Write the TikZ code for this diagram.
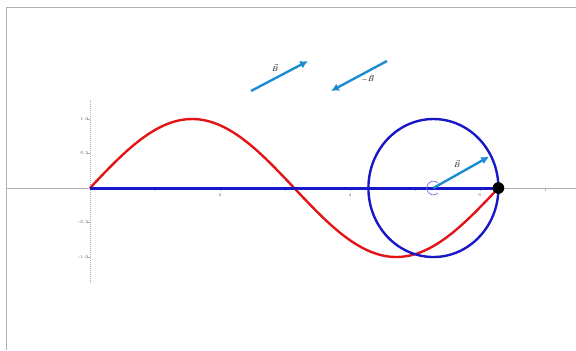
\documentclass[tikz,border=0pt]{standalone}
\usetikzlibrary{arrows.meta,calc}
\definecolor{curvered}{RGB}{226,20,24}
\definecolor{circblue}{RGB}{24,24,200}
\definecolor{vecblue}{RGB}{28,140,210}
\tikzset{
  vecarrow/.style={vecblue,line width=2.4pt,-{Latex[length=8pt,width=8pt]}},
  ticklabel/.style={font=\fontsize{4.5}{5}\selectfont,text=gray!80!black,inner sep=1pt}
}
\begin{document}
\begin{tikzpicture}[x=65bp,y=69bp]
\useasboundingbox (-1.385,-2.348) rectangle (7.477,2.725);
% frame
\draw[gray!60,line width=0.8pt] (-1.292,-2.348) -- (-1.292,2.623) -- (7.477,2.623);
% axes
\draw[gray!60,line width=0.7pt] (-1.292,0) -- (7.477,0);
\draw[gray!60,line width=0.5pt,dash pattern=on 1pt off 1pt] (0,1.27) -- (0,-1.36);
\foreach \y/\t in {1/1.0,0.5/0.5,-0.5/-0.5,-1/-1.0}
  \draw[gray!60,line width=0.4pt] (-0.05,\y) -- (0,\y) node[ticklabel,left=0.5pt] {\t};
\foreach \x in {1,...,7}
  \draw[gray!60,line width=0.4pt] (\x,0) -- (\x,-0.04);
\foreach \x in {2,4,6}
  \node[ticklabel] at (\x,-0.1) {\x};
% sine curve and base line
\draw[curvered,line width=2.4pt] plot[domain=0:2*pi,samples=120] (\x,{sin(\x r)});
\draw[circblue,line width=3pt] (0,0) -- (2*pi,0);
% circle
\coordinate (ctr) at ({2*pi-1},0);
\draw[circblue,line width=2.4pt] (ctr) circle[radius=1];
\draw[circblue!60,line width=0.7pt] ($(ctr)+(45:0.1)$) arc[start angle=45,end angle=315,radius=0.1];
\coordinate (tip) at ($(ctr)+(28:0.97)$);
\draw[vecarrow] (ctr) -- (tip);
\node[font=\scriptsize] (lbc) at (5.646,0.35) {$\vec{B}$};
\fill[black] (2*pi,0) circle[x radius=0.09,y radius=0.085];
% free vectors
\coordinate (bs) at (2.477,1.406);
\coordinate (be) at (3.354,1.841);
\coordinate (ms) at (4.569,1.841);
\coordinate (me) at (3.708,1.406);
\draw[vecarrow] (bs) -- (be);
\draw[vecarrow] (ms) -- (me);
\node[font=\scriptsize] (lbb) at (2.846,1.74) {$\vec{B}$};
\node[font=\scriptsize] (lbm) at (4.277,1.58) {$-\vec{B}$};
\end{tikzpicture}
\end{document}
